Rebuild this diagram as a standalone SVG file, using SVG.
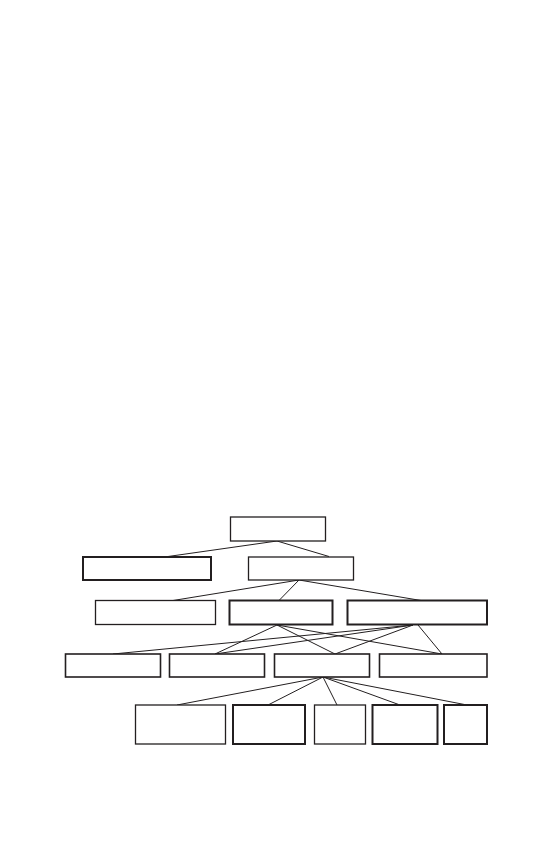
<svg xmlns="http://www.w3.org/2000/svg" width="553" height="850" viewBox="0 0 553 850">
<style>
.n rect{fill:#fff;stroke:#231f20}
.t{stroke-width:1.3}
.m{stroke-width:1.6}
.k{stroke-width:2}
#connectors line{stroke:#231f20;stroke-width:1}
</style>
<rect width="553" height="850" fill="#fff"/>
<g id="connectors">
<line x1="277" y1="541" x2="168" y2="556.5"/>
<line x1="277" y1="541" x2="329" y2="556.5"/>
<line x1="299" y1="580" x2="173" y2="600.5"/>
<line x1="299" y1="580" x2="279" y2="600.5"/>
<line x1="299" y1="580" x2="421" y2="600.5"/>
<line x1="277" y1="625" x2="215" y2="654"/>
<line x1="277" y1="625" x2="335" y2="654"/>
<line x1="277" y1="625" x2="442" y2="654"/>
<line x1="413" y1="625" x2="113" y2="654"/>
<line x1="413" y1="625" x2="215" y2="654"/>
<line x1="413" y1="625" x2="335" y2="654"/>
<line x1="418" y1="625" x2="442" y2="654"/>
<line x1="323" y1="677" x2="177" y2="705"/>
<line x1="323" y1="677" x2="268" y2="705"/>
<line x1="323" y1="677" x2="337" y2="705"/>
<line x1="323" y1="677" x2="400" y2="705"/>
<line x1="323" y1="677" x2="467" y2="705"/>
</g>
<g id="n_root" class="n"><rect class="t" x="230.5" y="517" width="95" height="24"/></g>
<g id="n_b1" class="n"><rect class="k" x="83" y="557" width="128" height="23"/></g>
<g id="n_b2" class="n"><rect class="t" x="248.5" y="557" width="105" height="23"/></g>
<g id="n_c1" class="n"><rect class="t" x="95.5" y="600.5" width="120" height="24"/></g>
<g id="n_c2" class="n"><rect class="k" x="229.5" y="600.5" width="103" height="24"/></g>
<g id="n_c3" class="n"><rect class="k" x="347.5" y="600.5" width="139.5" height="24"/></g>
<g id="n_d1" class="n"><rect class="m" x="65.5" y="654" width="95" height="23"/></g>
<g id="n_d2" class="n"><rect class="m" x="169.5" y="654" width="95" height="23"/></g>
<g id="n_d3" class="n"><rect class="m" x="274.5" y="654" width="95" height="23"/></g>
<g id="n_d4" class="n"><rect class="m" x="379.5" y="654" width="107.5" height="23"/></g>
<g id="n_e1" class="n"><rect class="t" x="135.5" y="705" width="90" height="39"/></g>
<g id="n_e2" class="n"><rect class="k" x="233" y="705" width="72" height="39"/></g>
<g id="n_e3" class="n"><rect class="t" x="314.5" y="705" width="51" height="39"/></g>
<g id="n_e4" class="n"><rect class="k" x="372.5" y="705" width="65" height="39"/></g>
<g id="n_e5" class="n"><rect class="k" x="444" y="705" width="43" height="39"/></g>
</svg>
